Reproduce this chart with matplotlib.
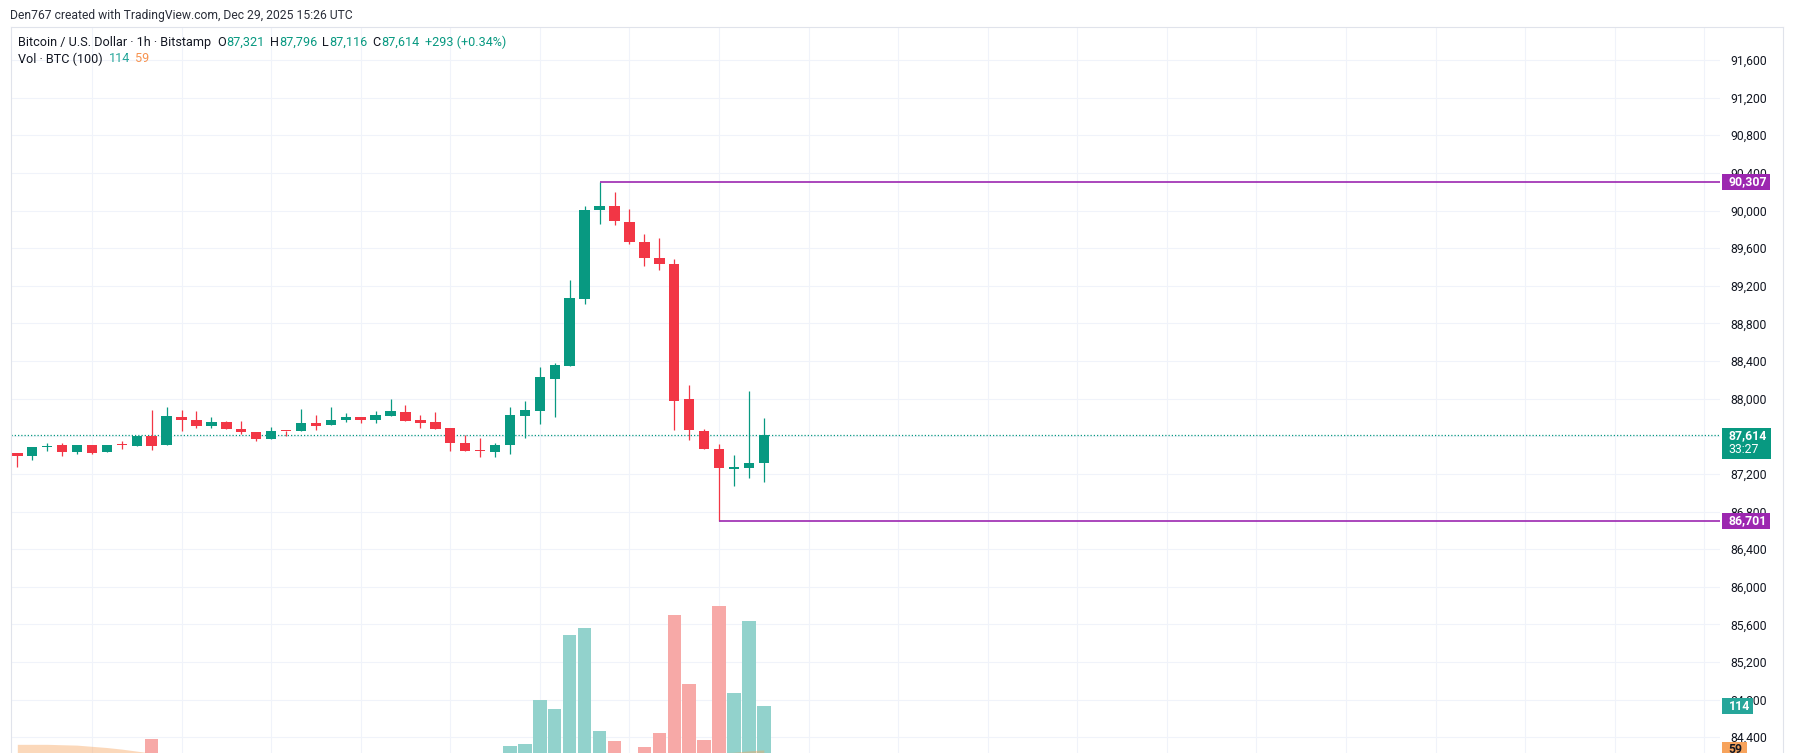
import matplotlib
matplotlib.use('Agg')
import matplotlib.pyplot as plt
from matplotlib.patches import Rectangle
from matplotlib.lines import Line2D
from matplotlib.transforms import blended_transform_factory

# ---------------- data (1h candles, Bitstamp BTC/USD) ----------------
opens = [87420, 87391, 87488, 87505, 87434, 87505, 87434, 87512, 87497, 87600,
         87508, 87802, 87777, 87710, 87749, 87674, 87650, 87572, 87660, 87657,
         87738, 87720, 87773, 87809, 87773, 87816, 87862, 87770, 87749, 87685,
         87533, 87450, 87434, 87508, 87816, 87869, 88205, 88347, 89054, 90002,
         90052, 89882, 89670, 89500, 89436, 87993, 87660, 87463, 87255, 87265,
         87321]
highs = [87425, 87490, 87533, 87526, 87505, 87512, 87512, 87554, 87600, 87876,
         87908, 87876, 87865, 87802, 87766, 87759, 87650, 87703, 87660, 87894,
         87823, 87915, 87851, 87809, 87872, 88000, 87936, 87823, 87855, 87685,
         87618, 87586, 87526, 87908, 87972, 88340, 88375, 89266, 90052, 90307,
         90200, 90017, 89755, 89712, 89486, 88141, 87681, 87519, 87396, 88085,
         87796]
lows = [87275, 87349, 87448, 87391, 87412, 87412, 87434, 87462, 87497, 87455,
        87508, 87657, 87688, 87688, 87678, 87625, 87547, 87572, 87607, 87657,
        87667, 87720, 87752, 87742, 87738, 87816, 87763, 87689, 87678, 87444,
        87444, 87384, 87384, 87409, 87582, 87727, 87802, 88347, 89001, 89861,
        89850, 89649, 89408, 89366, 87667, 87561, 87469, 86701, 87074, 87158,
        87116]
closes = [87391, 87490, 87490, 87434, 87505, 87423, 87512, 87505, 87600, 87497,
          87812, 87773, 87710, 87749, 87678, 87646, 87568, 87660, 87655, 87738,
          87710, 87777, 87802, 87773, 87823, 87865, 87763, 87738, 87678, 87529,
          87444, 87445, 87512, 87823, 87880, 88226, 88354, 89065, 90009, 90052,
          89886, 89663, 89493, 89429, 87975, 87667, 87469, 87258, 87268, 87321,
          87614]
volumes = [40, 35, 30, 38, 32, 36, 30, 28, 45, 73,
           52, 40, 35, 30, 33, 36, 42, 38, 25, 48,
           35, 44, 30, 28, 36, 46, 40, 33, 38, 50,
           42, 37, 45, 64, 66, 121, 110, 203, 212, 83,
           70, 45, 63, 80, 228, 142, 71, 239, 130, 220,
           114]
vol_ma = [66, 66, 66, 65.5, 65, 63.5, 62, 60, 57.5, 55,
          54, 53.5, 53, 52.5, 52, 51.5, 51, 50.5, 50, 49.5,
          49, 48.5, 48, 47.5, 47, 46.5, 46, 45.5, 45.2, 45,
          44.8, 44.6, 44.5, 44.7, 45, 45.8, 46.5, 48, 49.6, 49.9,
          50.1, 50, 50.2, 50.5, 52.3, 53.2, 53.4, 55.3, 56.1, 57.8,
          59]
price_ticks = list(range(84400, 91601, 400))
high_level = 90307
high_idx = 39
low_level = 86701
low_idx = 47
last_price = 87614
countdown = "33:27"

# ---------------- style ----------------
GREEN = '#089981'
RED = '#f23645'
VGREEN = '#92d2cc'
VRED = '#f7a9a7'
PURPLE = '#9c27b0'
GRID = '#f0f3fa'
TXT = '#131722'
plt.rcParams['font.family'] = ['Roboto', 'DejaVu Sans']

W, H = 1793, 753
fig = plt.figure(figsize=(W / 100, H / 100), dpi=100, facecolor='white')


def fx(px):
    return px / W


def fy(py):
    return 1 - py / H


PANEL_L, PANEL_T, PLOT_R, PANEL_R = 10.7, 27.3, 1720, 1783
PX_PER_BAR = 14.93
X0 = 17.3  # pixel of first candle
PRICE_PER_PX = 10.631
ytop = 91600 + (60 - PANEL_T) * PRICE_PER_PX
ybot = 91600 - (H - 60) * PRICE_PER_PX
xl = (PANEL_L - X0) / PX_PER_BAR
xr = (PLOT_R - X0) / PX_PER_BAR

ax = fig.add_axes([fx(PANEL_L), 0, fx(PLOT_R) - fx(PANEL_L), fy(PANEL_T)])
ax.set_xlim(xl, xr)
ax.set_ylim(ybot, ytop)
for s in ax.spines.values():
    s.set_visible(False)

# volume overlay (twin axes) -- created before configuring the price ticks
VOL_PX = 0.798
VOL_ZERO_Y = 797
ax_vol = ax.twinx()
ax_vol.set_ylim((VOL_ZERO_Y - H) / VOL_PX, (VOL_ZERO_Y - PANEL_T) / VOL_PX)
ax_vol.axis('off')

ax.yaxis.tick_right()
ax.yaxis.set_label_position('right')
ax.set_yticks(price_ticks)
ax.set_yticklabels([f"{v:,}" for v in price_ticks])
ax.tick_params(axis='y', which='both', left=False, right=False, labelleft=False,
               labelright=True, length=0, pad=7.2, labelsize=8.8, labelcolor=TXT)
ax.set_xticks(list(range(5, int(xr) + 1, 6)))
ax.tick_params(axis='x', length=0, labelbottom=False)
ax.grid(True, color=GRID, lw=0.8)
ax.set_axisbelow(True)

n = len(opens)
idx = list(range(n))
# wicks
for i in idx:
    col = GREEN if closes[i] >= opens[i] else RED
    ax.vlines(i, lows[i], highs[i], color=col, lw=0.9, zorder=3)
bottoms = [min(o, c) for o, c in zip(opens, closes)]
heights = [max(abs(c - o), 10) for o, c in zip(opens, closes)]
cols = [GREEN if c >= o else RED for o, c in zip(opens, closes)]
ax.bar(idx, heights, bottom=bottoms, width=0.7, color=cols, lw=0, zorder=4)

# current price dotted line
ax.axhline(last_price, color=GREEN, lw=0.9, ls=(0, (1.0, 1.6)), zorder=2)
# high / low horizontal lines
ax.hlines(high_level, high_idx, xr, color=PURPLE, lw=1.2, zorder=5, clip_on=False)
ax.hlines(low_level, low_idx, xr, color=PURPLE, lw=1.2, zorder=5, clip_on=False)

vcols = [VGREEN if c >= o else VRED for o, c in zip(opens, closes)]
ax_vol.bar(idx, volumes, width=0.9, color=vcols, lw=0, zorder=2)
ax_vol.fill_between(idx, 0, vol_ma, color='#f7a35c', alpha=0.42, lw=0, zorder=3)

# price-scale labels
ax_p = fig.add_axes([fx(PLOT_R), 0, fx(PANEL_R) - fx(PLOT_R), fy(PANEL_T)])
ax_p.set_xlim(PLOT_R, PANEL_R)
ax_p.set_ylim(ybot, ytop)
ax_p.axis('off')


def price_box(price, text, color, width=48, fc_txt='white', top_px=8, bot_px=8, trans=None, unit=PRICE_PER_PX):
    tr = trans if trans is not None else ax_p.transData
    ax_p.add_patch(Rectangle((1722, price - bot_px * unit), width, (top_px + bot_px) * unit,
                             facecolor=color, edgecolor='none', transform=tr, clip_on=False, zorder=5))
    ax_p.text(1728.5, price, text, color=fc_txt, fontsize=8.8, fontweight='bold',
              va='center', ha='left', transform=tr, clip_on=False, zorder=6)


price_box(high_level, f"{high_level:,}", PURPLE)
price_box(low_level, f"{low_level:,}", PURPLE)
# current price box with countdown
ax_p.add_patch(Rectangle((1722, last_price - 24 * PRICE_PER_PX), 49, 31 * PRICE_PER_PX,
                         facecolor=GREEN, edgecolor='none', zorder=5))
ax_p.text(1728.5, last_price - 0.7 * PRICE_PER_PX, f"{last_price:,}", color='white', fontsize=8.8,
          fontweight='bold', va='center', ha='left', zorder=6)
ax_p.text(1728.5, last_price - 15 * PRICE_PER_PX, countdown, color='white', fontsize=8.8,
          va='center', ha='left', zorder=6)
vtr = blended_transform_factory(ax_p.transData, ax_vol.transData)
price_box(volumes[-1], f"{volumes[-1]}", '#26a69a', width=31, trans=vtr, unit=1 / VOL_PX)
price_box(vol_ma[-1], f"{vol_ma[-1]}", '#f7a35c', width=25, fc_txt=TXT, trans=vtr, unit=1 / VOL_PX)

# panel border
for (x0, y0, x1, y1) in [(PANEL_L, PANEL_T, PANEL_R, PANEL_T), (PANEL_L, PANEL_T, PANEL_L, H),
                         (PANEL_R, PANEL_T, PANEL_R, H)]:
    fig.add_artist(Line2D([fx(x0), fx(x1)], [fy(y0), fy(y1)], color='#e0e3eb', lw=0.8))

# header texts
renderer = fig.canvas.get_renderer()


def fit_size(s, target_px, base=10.0):
    t = fig.text(0, 0, s, fontsize=base)
    w = t.get_window_extent(renderer).width
    t.remove()
    return base * target_px / w


def seq(parts, x0, y, size):
    x = x0
    for s, color, gap in parts:
        t = fig.text(fx(x), fy(y), s, color=color, fontsize=size, va='center', ha='left')
        bb = t.get_window_extent(renderer)
        x = bb.x1 + gap


header = "Den767 created with TradingView.com, Dec 29, 2025 15:26 UTC"
fig.text(fx(10.5), fy(15), header, color='#2a2e39', fontsize=fit_size(header, 341),
         va='center', ha='left')
title = "Bitcoin / U.S. Dollar · 1h · Bitstamp"
lsize = fit_size(title, 191.6)
seq([(title, TXT, 6),
     ("O", TXT, 0.3), ("87,321", GREEN, 5),
     ("H", TXT, 0.3), ("87,796", GREEN, 5),
     ("L", TXT, 0.3), ("87,116", GREEN, 5),
     ("C", TXT, 0.3), ("87,614", GREEN, 5.5),
     ("+293 (+0.34%)", GREEN, 0)], 18.4, 42.3, lsize)
seq([("Vol · BTC (100)", TXT, 6), ("114", '#26a69a', 5), ("59", '#f7934f', 0)], 18.4, 59, lsize)

fig.savefig('out.png', dpi=100, facecolor='white')
